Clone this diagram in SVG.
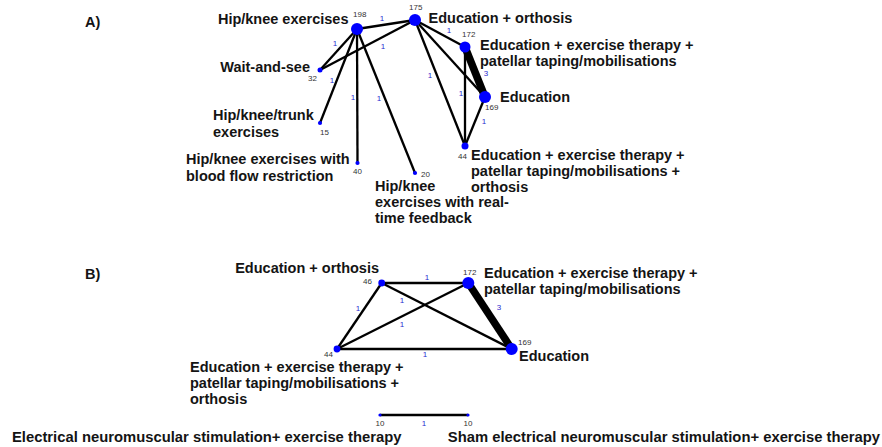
<svg xmlns="http://www.w3.org/2000/svg" width="882" height="447" viewBox="0 0 882 447">
<style>
.lbl{font-family:"Liberation Sans",Arial,sans-serif;font-weight:bold;font-size:14.5px;fill:#141414}
.big{font-family:"Liberation Sans",Arial,sans-serif;font-weight:bold;font-size:14.8px;fill:#141414}
.n{font-family:"Liberation Sans",Arial,sans-serif;font-size:8px;fill:#333}
.w{font-family:"Liberation Sans",Arial,sans-serif;font-size:8px;fill:#2b2bd0;text-anchor:middle}
.e{stroke:#000;stroke-width:2.3;fill:none}
.thick{stroke:#000;stroke-width:7.5;fill:none}
.node{fill:#0000ff}
</style>
<rect width="882" height="447" fill="#fff"/>
<text class="lbl" x="85" y="27">A)</text>
<text class="lbl" x="85" y="279">B)</text>

<g id="connectors">
  <!-- Panel A -->
  <line class="e" x1="357" y1="29" x2="415" y2="20"/>
  <line class="e" x1="357" y1="29" x2="320" y2="70"/>
  <line class="e" x1="415" y1="20" x2="320" y2="70"/>
  <line class="e" x1="357" y1="29" x2="320" y2="123"/>
  <line class="e" x1="357" y1="29" x2="357.5" y2="163"/>
  <line class="e" x1="357" y1="29" x2="415" y2="173"/>
  <line class="e" x1="415" y1="20" x2="465" y2="47"/>
  <line class="e" x1="415" y1="20" x2="485" y2="97"/>
  <line class="e" x1="415" y1="20" x2="465" y2="146"/>
  <line class="thick" x1="465" y1="47" x2="485" y2="97"/>
  <line class="e" x1="465" y1="47" x2="465" y2="146"/>
  <line class="e" x1="485" y1="97" x2="465" y2="146"/>
  <!-- Panel B -->
  <line class="e" x1="381.7" y1="283" x2="468.3" y2="283"/>
  <line class="e" x1="381.7" y1="283" x2="337" y2="349"/>
  <line class="e" x1="381.7" y1="283" x2="511.7" y2="349"/>
  <line class="e" x1="468.3" y1="283" x2="337" y2="349"/>
  <line class="thick" x1="468.3" y1="283" x2="511.7" y2="349"/>
  <line class="e" x1="337" y1="349" x2="511.7" y2="349"/>
  <!-- Bottom -->
  <line class="e" x1="380" y1="415" x2="468" y2="415" stroke-width="2.5"/>
  <!-- weights -->
  <text class="w" x="382" y="21">1</text>
  <text class="w" x="335" y="46">1</text>
  <text class="w" x="383" y="49">1</text>
  <text class="w" x="332" y="83">1</text>
  <text class="w" x="353" y="100">1</text>
  <text class="w" x="379" y="101">1</text>
  <text class="w" x="449" y="33">1</text>
  <text class="w" x="430" y="78">1</text>
  <text class="w" x="486" y="76">3</text>
  <text class="w" x="461" y="96">1</text>
  <text class="w" x="484" y="124">1</text>
  <text class="w" x="427" y="280">1</text>
  <text class="w" x="402" y="303">1</text>
  <text class="w" x="358" y="311">1</text>
  <text class="w" x="402" y="327">1</text>
  <text class="w" x="499" y="310">3</text>
  <text class="w" x="425" y="357">1</text>
  <text class="w" x="424" y="426">1</text>
</g>

<g id="hipknee">
  <circle class="node" cx="357" cy="29" r="6"/>
  <text class="n" x="353" y="17">198</text>
  <text class="lbl" x="348.5" y="24" text-anchor="end">Hip/knee exercises</text>
</g>
<g id="edorth-a">
  <circle class="node" cx="415" cy="20" r="6"/>
  <text class="n" x="409" y="10">175</text>
  <text class="lbl" x="428.5" y="23">Education + orthosis</text>
</g>
<g id="edexpat-a">
  <circle class="node" cx="465" cy="47" r="5.5"/>
  <text class="n" x="462" y="37">172</text>
  <text class="lbl" x="480" y="50">Education + exercise therapy +</text>
  <text class="lbl" x="480" y="66">patellar taping/mobilisations</text>
</g>
<g id="education-a">
  <circle class="node" cx="485" cy="97" r="6"/>
  <text class="n" x="485" y="110">169</text>
  <text class="lbl" x="500" y="102">Education</text>
</g>
<g id="edexpatorth-a">
  <circle class="node" cx="465" cy="146" r="3.5"/>
  <text class="n" x="458" y="158.5">44</text>
  <text class="lbl" x="471" y="160">Education + exercise therapy +</text>
  <text class="lbl" x="471" y="176">patellar taping/mobilisations +</text>
  <text class="lbl" x="471" y="192">orthosis</text>
</g>
<g id="waitandsee">
  <circle class="node" cx="320" cy="70" r="2.5"/>
  <text class="n" x="308" y="81">32</text>
  <text class="lbl" x="310" y="72" text-anchor="end">Wait-and-see</text>
</g>
<g id="trunk">
  <circle class="node" cx="320" cy="123" r="2.1"/>
  <text class="n" x="320" y="135">15</text>
  <text class="lbl" x="213" y="120">Hip/knee/trunk</text>
  <text class="lbl" x="213" y="137">exercises</text>
</g>
<g id="bloodflow">
  <circle class="node" cx="357.5" cy="163" r="2.1"/>
  <text class="n" x="353" y="174">40</text>
  <text class="lbl" x="186" y="164">Hip/knee exercises with</text>
  <text class="lbl" x="186" y="181">blood flow restriction</text>
</g>
<g id="realtime">
  <circle class="node" cx="415" cy="173" r="2.1"/>
  <text class="n" x="421" y="177">20</text>
  <text class="lbl" x="375" y="191">Hip/knee</text>
  <text class="lbl" x="375" y="207">exercises with real-</text>
  <text class="lbl" x="375" y="223">time feedback</text>
</g>

<g id="edorth-b">
  <circle class="node" cx="381.7" cy="283" r="3.4"/>
  <text class="n" x="363" y="284">46</text>
  <text class="lbl" x="379" y="273" text-anchor="end">Education + orthosis</text>
</g>
<g id="edexpat-b">
  <circle class="node" cx="468.3" cy="283" r="6"/>
  <text class="n" x="463" y="275">172</text>
  <text class="lbl" x="484" y="278">Education + exercise therapy +</text>
  <text class="lbl" x="484" y="294">patellar taping/mobilisations</text>
</g>
<g id="education-b">
  <circle class="node" cx="511.7" cy="349" r="6"/>
  <text class="n" x="518" y="345">169</text>
  <text class="lbl" x="519" y="361">Education</text>
</g>
<g id="edexpatorth-b">
  <circle class="node" cx="337" cy="349" r="3.4"/>
  <text class="n" x="324" y="357">44</text>
  <text class="lbl" x="190" y="372">Education + exercise therapy +</text>
  <text class="lbl" x="190" y="388">patellar taping/mobilisations +</text>
  <text class="lbl" x="190" y="404">orthosis</text>
</g>

<g id="ems">
  <circle class="node" cx="380" cy="415" r="1.6"/>
  <text class="n" x="380" y="426" text-anchor="middle">10</text>
  <text class="big" x="12" y="442">Electrical neuromuscular stimulation+ exercise therapy</text>
</g>
<g id="sham">
  <circle class="node" cx="468" cy="415" r="1.6"/>
  <text class="n" x="468" y="426" text-anchor="middle">10</text>
  <text class="big" x="880" y="442" text-anchor="end">Sham electrical neuromuscular stimulation+ exercise therapy</text>
</g>
</svg>
